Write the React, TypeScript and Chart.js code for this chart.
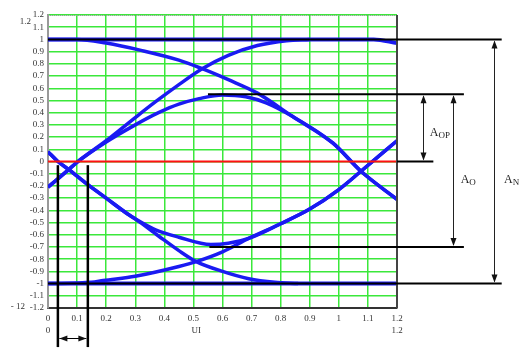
import React, { useEffect, useRef } from 'react';
import { Chart, registerables } from 'chart.js';

Chart.register(...registerables);

// ---- axis ticks ----
const xTicks = [0, 0.1, 0.2, 0.3, 0.4, 0.5, 0.6, 0.7, 0.8, 0.9, 1, 1.1, 1.2];
const yTicks = [-1.2, -1.1, -1, -0.9, -0.8, -0.7, -0.6, -0.5, -0.4, -0.3, -0.2, -0.1, 0,
  0.1, 0.2, 0.3, 0.4, 0.5, 0.6, 0.7, 0.8, 0.9, 1, 1.1, 1.2];

// ---- eye-diagram traces (UI, amplitude) ----
const flatTop: [number, number][] = [[0, 1], [0.6, 1], [1.12, 1], [1.2, 0.97]];
const flatBottom: [number, number][] = [[0, -1], [0.6, -1], [1.2, -1]];
const riseToTop: [number, number][] = [[0, -0.21], [0.074, -0.06], [0.103, 0], [0.2, 0.17], [0.3, 0.36],
  [0.37, 0.49], [0.45, 0.63], [0.53, 0.76], [0.62, 0.87], [0.72, 0.95], [0.82, 0.99], [0.9, 1]];
const risePeak: [number, number][] = [[0, -0.21], [0.074, -0.06], [0.103, 0], [0.2, 0.16], [0.3, 0.3],
  [0.38, 0.4], [0.45, 0.47], [0.52, 0.515], [0.6, 0.545], [0.68, 0.53], [0.75, 0.48],
  [0.84, 0.37], [0.98, 0.15], [1.076, -0.08], [1.2, -0.31]];
const fallFromTop: [number, number][] = [[0, 1], [0.1, 1], [0.2, 0.97], [0.32, 0.91], [0.45, 0.83],
  [0.53, 0.76], [0.62, 0.67], [0.72, 0.56], [0.84, 0.37], [0.98, 0.15], [1.076, -0.08], [1.2, -0.31]];
const fallToBottom: [number, number][] = [[0, 0.08], [0.034, 0], [0.074, -0.07], [0.137, -0.19], [0.2, -0.3],
  [0.274, -0.43], [0.3, -0.47], [0.38, -0.61], [0.45, -0.73], [0.51, -0.82], [0.6, -0.9], [0.69, -0.96],
  [0.78, -0.99], [0.86, -1]];
const fallTrough: [number, number][] = [[0, 0.08], [0.034, 0], [0.074, -0.07], [0.137, -0.19], [0.2, -0.3],
  [0.274, -0.43], [0.3, -0.47], [0.37, -0.56], [0.45, -0.62], [0.56, -0.68], [0.62, -0.67], [0.69, -0.63],
  [0.8, -0.51], [0.9, -0.39], [1.0, -0.23], [1.076, -0.08], [1.2, 0.17]];
const riseFromBottom: [number, number][] = [[0, -1], [0.15, -0.99], [0.19, -0.975], [0.3, -0.94],
  [0.45, -0.86], [0.51, -0.82], [0.6, -0.74], [0.69, -0.63], [0.8, -0.51], [0.9, -0.39], [1.0, -0.23],
  [1.076, -0.08], [1.2, 0.17]];
const zeroLine: [number, number][] = [[0, 0], [1.2, 0]];

// ---- annotation levels (data units) ----
const refLevels = [1, 0.55, 0, -0.7, -1];
const refStartX = [0, 0.55, 1.2, 0.555, 0];
const refEndX = [1.56, 1.43, 1.325, 1.43, 1.56];
// vertical dimension arrows: x, from level, to level, label, subscript
const dimX = [1.29, 1.393, 1.534];
const dimFrom = [0.55, 0.55, 1];
const dimTo = [0, -0.7, -1];
const dimMain = ['A', 'A', 'A'];
const dimSub = ['OP', 'O', 'N'];
const dimLabelX = [1.313, 1.419, 1.568];
const dimLabelY = [0.233, -0.15, -0.15];
// jitter window markers
const windowX = [0.034, 0.137];
const windowTopY = -0.03;
const windowBottomY = -1.52;
const windowArrowY = -1.445;

const SERIF = "'Liberation Serif', 'Times New Roman', serif";

const fmt = (v: number) => String(Number(v.toFixed(1)));

const annotate = {
  id: 'annotate',
  afterDatasetsDraw(chart: any) {
    const { ctx, scales, chartArea: a } = chart;
    const x = scales.x;
    const y = scales.y;
    const px = (v: number) => x.getPixelForValue(v);
    const py = (v: number) => y.getPixelForValue(v);
    const line = (x1: number, y1: number, x2: number, y2: number) => {
      ctx.beginPath();
      ctx.moveTo(x1, y1);
      ctx.lineTo(x2, y2);
      ctx.stroke();
    };
    const head = (tx: number, ty: number, dx: number, dy: number) => {
      const L = 8, W = 3;
      const bx = tx - dx * L, by = ty - dy * L;
      ctx.beginPath();
      ctx.moveTo(tx, ty);
      ctx.lineTo(bx - dy * W, by + dx * W);
      ctx.lineTo(bx + dy * W, by - dx * W);
      ctx.closePath();
      ctx.fill();
    };
    ctx.save();
    // frame: top dotted, right solid
    ctx.strokeStyle = '#999';
    ctx.lineWidth = 1;
    ctx.setLineDash([1, 1]);
    line(a.left, a.top + 0.5, a.right, a.top + 0.5);
    ctx.setLineDash([]);
    ctx.strokeStyle = '#444';
    ctx.lineWidth = 2;
    line(a.right, a.top, a.right, a.bottom);

    // black reference levels
    ctx.strokeStyle = '#000';
    ctx.lineWidth = 2;
    refLevels.forEach((lv, i) => line(px(refStartX[i]), py(lv), px(refEndX[i]), py(lv)));

    // dimension arrows
    ctx.strokeStyle = '#222';
    ctx.fillStyle = '#111';
    ctx.lineWidth = 1;
    dimX.forEach((dx, i) => {
      const X = Math.round(px(dx)) + 0.5;
      const y1 = py(dimFrom[i]);
      const y2 = py(dimTo[i]);
      line(X, y1 + 2, X, y2 - 2);
      head(X, y1 + 1, 0, -1);
      head(X, y2 - 1, 0, 1);
      const lx = px(dimLabelX[i]);
      const ly = py(dimLabelY[i]);
      ctx.fillStyle = '#222';
      ctx.textBaseline = 'middle';
      ctx.textAlign = 'left';
      ctx.font = `12px ${SERIF}`;
      ctx.fillText(dimMain[i], lx, ly);
      const w = ctx.measureText(dimMain[i]).width;
      ctx.font = `9px ${SERIF}`;
      ctx.fillText(dimSub[i], lx + w, ly + 3);
      ctx.fillStyle = '#111';
    });

    // jitter window vertical lines
    ctx.strokeStyle = '#000';
    ctx.lineWidth = 2.5;
    windowX.forEach((wx) => line(px(wx), py(windowTopY), px(wx), py(windowBottomY)));
    ctx.lineWidth = 1;
    const ay = Math.round(py(windowArrowY)) + 0.5;
    const ax1 = px(windowX[0]) + 1.5;
    const ax2 = px(windowX[1]) - 1.5;
    line(ax1, ay, ax2, ay);
    head(ax1, ay, -1, 0);
    head(ax2, ay, 1, 0);

    // extra axis texts
    ctx.fillStyle = '#333';
    ctx.font = `9px ${SERIF}`;
    ctx.textBaseline = 'middle';
    ctx.textAlign = 'right';
    ctx.fillText('1.2', a.left - 17, a.top + 7);
    ctx.fillText('- 12', a.left - 23, a.bottom - 1);
    ctx.textAlign = 'center';
    ctx.fillText('0', px(0), a.bottom + 23);
    ctx.fillText('UI', px(0.51), a.bottom + 23);
    ctx.fillText('1.2', px(1.2), a.bottom + 23);
    ctx.restore();
  },
};

const BLUE = '#1a1af2';

function trace(data: [number, number][], color = BLUE, width = 3.5) {
  return {
    data: data.map(([x, y]) => ({ x, y })),
    showLine: true,
    borderColor: color,
    backgroundColor: color,
    borderWidth: width,
    pointRadius: 0,
    cubicInterpolationMode: 'monotone' as const,
    fill: false,
  };
}

export default function App() {
  const ref = useRef<HTMLCanvasElement | null>(null);
  useEffect(() => {
    if (!ref.current) return;
    const tickFont = { family: SERIF, size: 9 };
    const chart = new Chart(ref.current, {
      type: 'scatter',
      data: {
        datasets: [
          trace(zeroLine, '#ff1010', 2),
          trace(flatTop, BLUE, 4),
          trace(flatBottom, BLUE, 4),
          trace(riseToTop),
          trace(risePeak),
          trace(fallFromTop),
          trace(fallToBottom),
          trace(fallTrough),
          trace(riseFromBottom),
        ] as any,
      },
      options: {
        responsive: false,
        animation: false,
        events: [],
        layout: { padding: { left: 0, right: 133, top: 15, bottom: 0 } },
        plugins: { legend: { display: false }, tooltip: { enabled: false } },
        scales: {
          x: {
            type: 'linear',
            min: 0,
            max: 1.2,
            afterBuildTicks: (s: any) => { s.ticks = xTicks.map((v) => ({ value: v })); },
            afterFit: (s: any) => { s.height = 48; },
            ticks: {
              callback: (v: any) => fmt(Number(v)),
              font: tickFont,
              color: '#333',
              padding: 5,
              maxRotation: 0,
              autoSkip: false,
            },
            grid: { color: '#3be83b', lineWidth: 1.5, drawTicks: false },
            border: { color: '#333', width: 2 },
          },
          y: {
            type: 'linear',
            min: -1.2,
            max: 1.2,
            afterBuildTicks: (s: any) => { s.ticks = yTicks.map((v) => ({ value: v })); },
            afterFit: (s: any) => { s.width = 48; },
            ticks: {
              callback: (v: any) => fmt(Number(v)),
              font: tickFont,
              color: '#333',
              padding: 4,
              autoSkip: false,
            },
            grid: { color: '#3be83b', lineWidth: 1.5, drawTicks: false },
            border: { color: '#999', width: 2 },
          },
        },
      } as any,
      plugins: [annotate],
    });
    return () => chart.destroy();
  }, []);
  return (
    <div style={{ position: 'fixed', left: 0, top: 0, width: 530, height: 356, background: '#fff' }}>
      <canvas ref={ref} width={530} height={356} style={{ display: 'block' }} />
    </div>
  );
}
